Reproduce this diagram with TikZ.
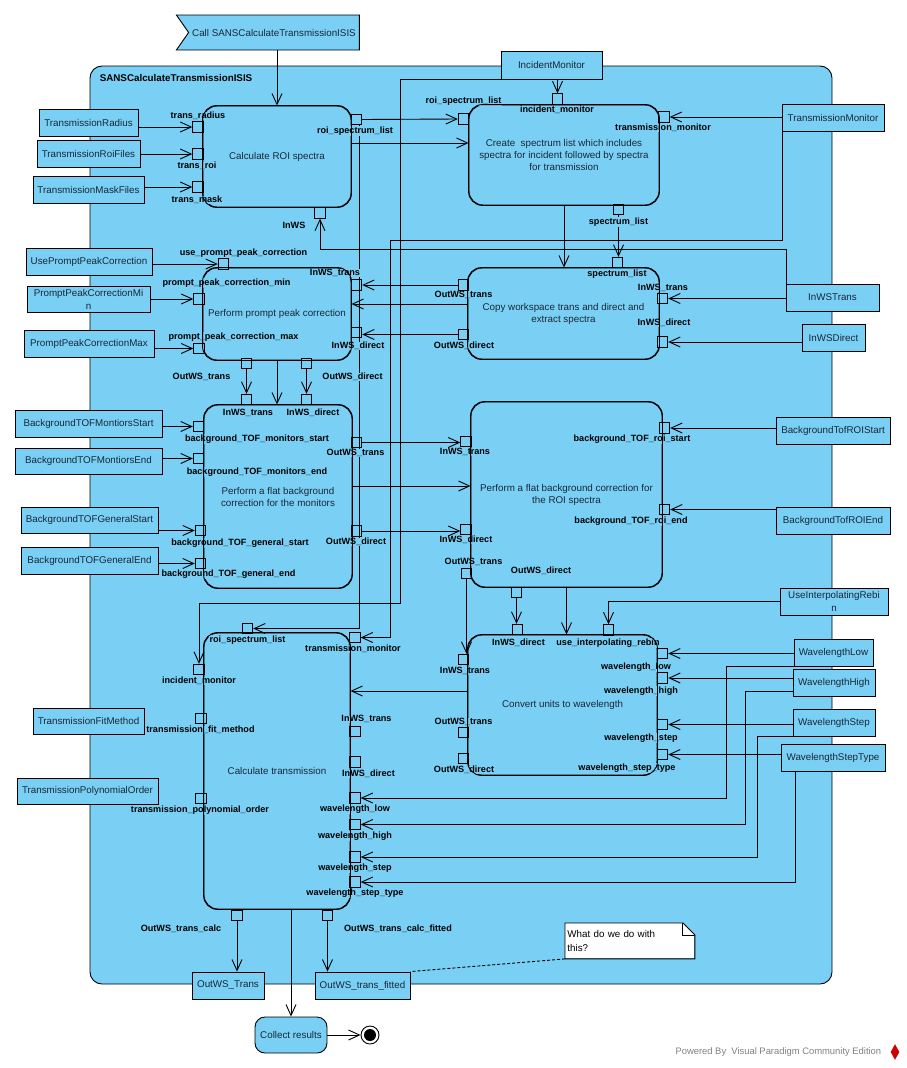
\documentclass[tikz,border=0pt]{standalone}
\usepackage{fontspec}
\setmainfont{Liberation Sans}
\usetikzlibrary{arrows.meta,shapes.symbols,shapes.geometric}

\definecolor{vpblue}{RGB}{122,207,245}
\definecolor{vptext}{RGB}{25,40,55}

\tikzset{
  act/.style={draw, fill=vpblue, rounded corners=14pt, text=vptext, align=center,
    font=\fontsize{9.8}{12}\selectfont, inner sep=0pt},
  obj/.style={draw, fill=vpblue, text=vptext, align=center,
    font=\fontsize{9.8}{13}\selectfont, inner sep=0pt},
  pinbox/.style={draw, fill=vpblue, minimum size=10.5pt, inner sep=0pt},
  lbl/.style={fill=vpblue, inner sep=0.6pt, font=\bfseries\fontsize{9.1}{10}\selectfont},
  flow/.style={-{Straight Barb[length=11pt,width=10pt]}},
}

\begin{document}
\begin{tikzpicture}[x=1pt, y=-1pt, line width=0.9pt]
  \useasboundingbox (0,0) rectangle (906,1068);

  % container
  \node[draw, fill=vpblue, rounded corners=12pt, minimum width=742pt, minimum height=918pt, inner sep=0pt] (frame) at (461,525) {};
  \node[anchor=west, font=\bfseries\fontsize{9.8}{11}\selectfont] (frametitle) at (96,78) {SANSCalculateTransmissionISIS};

  % start signal
  \node[signal, signal from=west, signal to=nowhere, signal pointer angle=110, draw, fill=vpblue, text=vptext,
    font=\fontsize{9.8}{12}\selectfont, minimum width=183pt, minimum height=35pt, inner sep=0pt] (start) at (274,32.5) {Call SANSCalculateTransmissionISIS};

  % actions
  \node[act, minimum width=148pt, minimum height=101pt] (roi) at (277,156.5) {Calculate ROI spectra};
  \node[act, minimum width=190pt, minimum height=100pt] (create) at (564,155) {Create~ spectrum list which includes\\spectra for incident followed by spectra\\for transmission};
  \node[act, minimum width=191pt, minimum height=91pt] (copy) at (563.5,313.5) {Copy workspace trans and direct and\\extract spectra};
  \node[act, minimum width=148pt, minimum height=92pt] (prompt) at (277,314) {Perform prompt peak correction};
  \node[act, minimum width=148pt, minimum height=183pt] (bgmon) at (278,496.5) {Perform a flat background\\correction for the monitors};
  \node[act, minimum width=191pt, minimum height=185pt] (bgroi) at (566.5,494.5) {Perform a flat background correction for\\the ROI spectra};
  \node[act, minimum width=189pt, minimum height=140pt] (conv) at (562.5,705) {Convert units to wavelength};
  \node[act, minimum width=146pt, minimum height=276pt] (calc) at (277,771) {Calculate transmission};
  \node[act, rounded corners=10pt, minimum width=72pt, minimum height=36pt] (collect) at (291,1035) {Collect results};
  \node[circle, draw, fill=white, minimum size=18pt, inner sep=0pt] (fin) at (370,1035) {};
  \fill (fin.center) circle (6pt);

  % object nodes
  \node[obj, minimum width=99pt, minimum height=27pt] (tradius) at (88.5,122.5) {TransmissionRadius};
  \node[obj, minimum width=103pt, minimum height=27pt] (troifiles) at (88.5,153.5) {TransmissionRoiFiles};
  \node[obj, minimum width=111pt, minimum height=27pt] (tmaskfiles) at (88.5,189.5) {TransmissionMaskFiles};
  \node[obj, minimum width=101pt, minimum height=28pt] (incmon) at (551.5,65) {IncidentMonitor};
  \node[obj, minimum width=102pt, minimum height=27pt] (trmon) at (833,117.5) {TransmissionMonitor};
  \node[obj, minimum width=126pt, minimum height=27pt] (usepeak) at (89,261.5) {UsePromptPeakCorrection};
  \node[obj, minimum width=123pt, minimum height=26pt] (pmin) at (88.5,299) {PromptPeakCorrectionMi\\n};
  \node[obj, minimum width=130pt, minimum height=27pt] (pmax) at (89,343.5) {PromptPeakCorrectionMax};
  \node[obj, minimum width=93pt, minimum height=27pt] (inwst) at (832.5,297.5) {InWSTrans};
  \node[obj, minimum width=63pt, minimum height=27pt] (inwsd) at (833.5,337.5) {InWSDirect};
  \node[obj, minimum width=147pt, minimum height=27pt] (mstart) at (88.5,423.5) {BackgroundTOFMontiorsStart};
  \node[obj, minimum width=147pt, minimum height=26pt] (mend) at (88.5,461) {BackgroundTOFMontiorsEnd};
  \node[obj, minimum width=137pt, minimum height=26pt] (gstart) at (89.5,520) {BackgroundTOFGeneralStart};
  \node[obj, minimum width=137pt, minimum height=27pt] (gend) at (89.5,560.5) {BackgroundTOFGeneralEnd};
  \node[obj, minimum width=114pt, minimum height=27pt] (rstart) at (833,430.5) {BackgroundTofROIStart};
  \node[obj, minimum width=114pt, minimum height=27pt] (rend) at (833,520.5) {BackgroundTofROIEnd};
  \node[obj, minimum width=108pt, minimum height=27pt] (rebin) at (834,601.5) {UseInterpolatingRebi\\n};
  \node[obj, minimum width=79pt, minimum height=27pt] (wlow) at (833.5,652.5) {WavelengthLow};
  \node[obj, minimum width=82pt, minimum height=27pt] (whigh) at (834,682.5) {WavelengthHigh};
  \node[obj, minimum width=82pt, minimum height=27pt] (wstep) at (834,722.5) {WavelengthStep};
  \node[obj, minimum width=104pt, minimum height=27pt] (wtype) at (833,757.5) {WavelengthStepType};
  \node[obj, minimum width=111pt, minimum height=26pt] (fitmethod) at (88.5,721) {TransmissionFitMethod};
  \node[obj, minimum width=141pt, minimum height=26pt] (polyorder) at (87.5,791) {TransmissionPolynomialOrder};
  \node[obj, minimum width=72pt, minimum height=27pt] (outtrans) at (228,985.5) {OutWS\_Trans};
  \node[obj, minimum width=95pt, minimum height=27pt] (outfit) at (362.5,985.5) {OutWS\_trans\_fitted};

  % note
  \node[anchor=north west, fill=white, align=left, inner sep=2pt, text width=125pt, minimum height=35pt,
    font=\fontsize{9.8}{14}\selectfont] (note) at (565,923) {What do we do with\\this?};
  \fill[vpblue] ([xshift=-12pt]note.north east) -- (note.north east) -- ([yshift=-12pt]note.north east) -- cycle;
  \draw (note.north west) -- ([xshift=-12pt]note.north east) -- ([yshift=-12pt]note.north east)
    -- (note.south east) -- (note.south west) -- cycle;
  \draw ([xshift=-12pt]note.north east) |- ([yshift=-12pt]note.north east);

  % pins
  \node[pinbox] (p-trad) at (198,127) {};
  \node[pinbox] (p-troi) at (198,154) {};
  \node[pinbox] (p-tmask) at (198,187) {};
  \node[pinbox] (p-roiout) at (356.5,119.5) {};
  \node[pinbox] (p-inws) at (320,213) {};
  \node[pinbox] (p-roiin) at (463.5,119) {};
  \node[pinbox] (p-incmon) at (557.5,99) {};
  \node[pinbox] (p-trmon) at (664,117) {};
  \node[pinbox] (p-speclist) at (618.5,209.5) {};
  \node[pinbox] (p-specin) at (617.5,262.5) {};
  \node[pinbox] (p-cout-t) at (463.5,285) {};
  \node[pinbox] (p-cout-d) at (463.5,334.5) {};
  \node[pinbox] (p-cin-t) at (662.5,298.5) {};
  \node[pinbox] (p-cin-d) at (662.5,342) {};
  \node[pinbox] (p-use) at (223.5,264) {};
  \node[pinbox] (p-pmin) at (199,299) {};
  \node[pinbox] (p-pmax) at (199,348.5) {};
  \node[pinbox] (p-pin-t) at (356.5,285) {};
  \node[pinbox] (p-pin-d) at (356.5,332.5) {};
  \node[pinbox] (p-pout-t) at (246.5,363.5) {};
  \node[pinbox] (p-pout-d) at (306.5,363.5) {};
  \node[pinbox] (p-bin-t) at (246.5,399.5) {};
  \node[pinbox] (p-bin-d) at (306.5,399.5) {};
  \node[pinbox] (p-mstart) at (198.5,426.5) {};
  \node[pinbox] (p-mend) at (198.5,458.5) {};
  \node[pinbox] (p-gstart) at (200.5,530.5) {};
  \node[pinbox] (p-gend) at (200.5,563.5) {};
  \node[pinbox] (p-bout-t) at (356.5,442.5) {};
  \node[pinbox] (p-bout-d) at (356.5,531) {};
  \node[pinbox] (p-rin-t) at (466,441.5) {};
  \node[pinbox] (p-rin-d) at (466,529.5) {};
  \node[pinbox] (p-rstart) at (664.5,428) {};
  \node[pinbox] (p-rend) at (664.5,509.5) {};
  \node[pinbox] (p-rout-t) at (466.5,573.5) {};
  \node[pinbox] (p-rout-d) at (516.5,592.5) {};
  \node[pinbox] (p-vin-t) at (463.5,659.5) {};
  \node[pinbox] (p-vin-d) at (517.5,629.5) {};
  \node[pinbox] (p-rebin) at (608.5,630) {};
  \node[pinbox] (p-wlow) at (662.5,653.5) {};
  \node[pinbox] (p-whigh) at (662.5,678) {};
  \node[pinbox] (p-wstep) at (662.5,724.5) {};
  \node[pinbox] (p-wtype) at (662.5,754.5) {};
  \node[pinbox] (p-vout-t) at (463.5,732.5) {};
  \node[pinbox] (p-vout-d) at (463.5,758.5) {};
  \node[pinbox] (p-roilist) at (247.5,628.5) {};
  \node[pinbox] (p-trmon2) at (355,637.5) {};
  \node[pinbox] (p-incmon2) at (199,669.5) {};
  \node[pinbox] (p-fit) at (201,718.5) {};
  \node[pinbox] (p-poly) at (201,798.5) {};
  \node[pinbox] (p-tin-t) at (355,731.5) {};
  \node[pinbox] (p-tin-d) at (355,762) {};
  \node[pinbox] (p-clow) at (355,798) {};
  \node[pinbox] (p-chigh) at (355,824.5) {};
  \node[pinbox] (p-cstep) at (355,857) {};
  \node[pinbox] (p-ctype) at (355,882) {};
  \node[pinbox] (p-tcalc) at (237,915.5) {};
  \node[pinbox] (p-tfit) at (327.5,915.5) {};

  % flows
  \draw[flow] (start.south -| roi.north) -- (roi.north);
  \draw[flow] (tradius.east |- p-trad) -- (p-trad.west);
  \draw[flow] (troifiles.east |- p-troi) -- (p-troi.west);
  \draw[flow] (tmaskfiles.east |- p-tmask) -- (p-tmask.west);
  \draw[flow] (p-roiout.east) -- (p-roiin.west);
  \coordinate (c-roi) at ([yshift=13.5pt]roi.east);
  \draw[flow] (c-roi) -- (c-roi -| create.west);
  \draw[flow] (incmon.south -| p-incmon) -- (p-incmon.north);
  \draw[flow] (trmon.west |- p-trmon) -- (p-trmon.east);
  \draw[flow] (p-speclist.south) -- (p-speclist.south |- p-specin.north);
  \draw[flow] (create.south) -- (create.south |- copy.north);
  \draw[flow] ([xshift=1pt]inwst.north west) -- ++(0,-34) -| (p-inws.south);
  \draw[flow] (inwst.west |- p-cin-t) -- (p-cin-t.east);
  \draw[flow] (inwsd.west |- p-cin-d) -- (p-cin-d.east);

  \draw[flow] (p-cout-t.west) -- (p-pin-t.east);
  \coordinate (c-copy) at ([yshift=9.5pt]copy.west);
  \draw[flow] (c-copy) -- (c-copy -| prompt.east);
  \draw[flow] (p-cout-d.west) -- (p-cout-d.west -| p-pin-d.east);
  \draw[flow] (usepeak.east |- p-use) -- (p-use.west);
  \draw[flow] (pmin.east |- p-pmin) -- (p-pmin.west);
  \draw[flow] (pmax.east |- p-pmax) -- (p-pmax.west);
  \draw[flow] (p-pout-t.south) -- (p-bin-t.north);
  \draw[flow] (p-pout-d.south) -- (p-bin-d.north);
  \draw[flow] (prompt.south) -- (prompt.south |- bgmon.north);

  \draw[flow] (mstart.east |- p-mstart) -- (p-mstart.west);
  \draw[flow] (mend.east |- p-mend) -- (p-mend.west);
  \draw[flow] (gstart.east |- p-gstart) -- (p-gstart.west);
  \draw[flow] (gend.east |- p-gend) -- (p-gend.west);
  \draw[flow] (p-bout-t.east) -- (p-bout-t.east -| p-rin-t.west);
  \coordinate (c-bg) at ([yshift=10.5pt]bgmon.east);
  \draw[flow] (c-bg) -- (c-bg -| bgroi.west);
  \draw[flow] (p-bout-d.east) -- (p-bout-d.east -| p-rin-d.west);
  \draw[flow] (rstart.west |- p-rstart) -- (p-rstart.east);
  \draw[flow] (rend.west |- p-rend) -- (p-rend.east);

  \draw[flow] (p-rout-t.south) -- (p-rout-t.south |- p-vin-t.north);
  \draw[flow] (p-rout-d.south) -- (p-rout-d.south |- p-vin-d.north);
  \draw[flow] (bgroi.south) -- (bgroi.south |- conv.north);
  \draw[flow] (rebin.west) -| (p-rebin.north);
  \draw[flow] (wlow.west |- p-wlow) -- (p-wlow.east);
  \draw[flow] (whigh.west |- p-whigh) -- (p-whigh.east);
  \draw[flow] (wstep.west |- p-wstep) -- (p-wstep.east);
  \draw[flow] (wtype.west |- p-wtype) -- (p-wtype.east);
  \coordinate (c-conv) at ([yshift=14pt]conv.west);
  \draw[flow] (c-conv) -- (c-conv -| calc.east);

  % inputs of calculate transmission
  \draw[flow] ([xshift=3pt]p-roiout.south) |- (p-roilist.east);
  \draw[flow] ([xshift=1pt]trmon.south west) -- ++(0,109) -| ([xshift=30pt]p-trmon2.east) -- (p-trmon2.east);
  \draw[flow] (incmon.south west) -- ++(-100,0) -- ++(0,524) -| (p-incmon2.north);
  \draw[flow] (wlow.south west) -- ++(-67,0) |- (p-clow.east);
  \draw[flow] ([yshift=5pt]whigh.south west) -- ++(-47,0) |- (p-chigh.east);
  \draw[flow] (wstep.south west) -- ++(-35,0) |- (p-cstep.east);
  \draw[flow] ([xshift=15pt]wtype.south west) |- (p-ctype.east);

  \draw[flow] (p-tcalc.south) -- (p-tcalc.south |- outtrans.north);
  \draw[flow] (p-tfit.south) -- (p-tfit.south |- outfit.north);
  \draw[flow] (calc.south -| collect.north) -- (collect.north);
  \draw[flow] (collect.east) -- (fin.west);
  \draw[dash pattern=on 3pt off 2pt] (note.south west) -- (outfit.north east);

  % pin labels
  \node[lbl] (l-trad) at (198,116) {trans\_radius};
  \node[lbl] (l-troi) at (197,166) {trans\_roi};
  \node[lbl] (l-tmask) at (197,200) {trans\_mask};
  \node[lbl] (l-roiout) at (355,131) {roi\_spectrum\_list};
  \node[lbl] (l-inws) at (294,225) {InWS};
  \node[lbl] (l-roiin) at (463.5,101) {roi\_spectrum\_list};
  \node[lbl] (l-incmon) at (557,110) {incident\_monitor};
  \node[lbl] (l-trmon) at (663,128) {transmission\_monitor};
  \node[lbl] (l-speclist) at (618.5,222) {spectrum\_list};
  \node[lbl] (l-specin) at (617,274) {spectrum\_list};
  \node[lbl] (l-cout-t) at (463.5,295) {OutWS\_trans};
  \node[lbl] (l-cout-d) at (464,346) {OutWS\_direct};
  \node[lbl] (l-cin-t) at (663,288) {InWS\_trans};
  \node[lbl] (l-cin-d) at (664,323) {InWS\_direct};
  \node[lbl] (l-use) at (243.5,253) {use\_prompt\_peak\_correction};
  \node[lbl] (l-pmin) at (226.5,283) {prompt\_peak\_correction\_min};
  \node[lbl] (l-pmax) at (233.5,337) {prompt\_peak\_correction\_max};
  \node[lbl] (l-pin-t) at (335,273) {InWS\_trans};
  \node[lbl] (l-pin-d) at (358,346) {InWS\_direct};
  \node[lbl] (l-pout-t) at (201.5,377) {OutWS\_trans};
  \node[lbl] (l-pout-d) at (352.5,377) {OutWS\_direct};
  \node[lbl] (l-bin-t) at (248,413) {InWS\_trans};
  \node[lbl] (l-bin-d) at (313,413) {InWS\_direct};
  \node[lbl] (l-mstart) at (257,439) {background\_TOF\_monitors\_start};
  \node[lbl] (l-mend) at (257,472) {background\_TOF\_monitors\_end};
  \node[lbl] (l-gstart) at (240,543) {background\_TOF\_general\_start};
  \node[lbl] (l-gend) at (228.5,574) {background\_TOF\_general\_end};
  \node[lbl] (l-bout-t) at (355.5,453) {OutWS\_trans};
  \node[lbl] (l-bout-d) at (356,542) {OutWS\_direct};
  \node[lbl] (l-rin-t) at (465,452) {InWS\_trans};
  \node[lbl] (l-rin-d) at (466,540) {InWS\_direct};
  \node[lbl] (l-rstart) at (632,439) {background\_TOF\_roi\_start};
  \node[lbl] (l-rend) at (631,521) {background\_TOF\_roi\_end};
  \node[lbl] (l-rout-t) at (473.5,562) {OutWS\_trans};
  \node[lbl] (l-rout-d) at (541,571) {OutWS\_direct};
  \node[lbl] (l-vin-t) at (465,671) {InWS\_trans};
  \node[lbl] (l-vin-d) at (518.5,643) {InWS\_direct};
  \node[lbl] (l-rebin) at (608,643) {use\_interpolating\_rebin};
  \node[lbl] (l-wlow) at (636,667) {wavelength\_low};
  \node[lbl] (l-whigh) at (641,691) {wavelength\_high};
  \node[lbl] (l-wstep) at (641,738) {wavelength\_step};
  \node[lbl] (l-wtype) at (627,768) {wavelength\_step\_type};
  \node[lbl] (l-vout-t) at (463.5,722) {OutWS\_trans};
  \node[lbl] (l-vout-d) at (464,770) {OutWS\_direct};
  \node[lbl] (l-roilist) at (247.5,640) {roi\_spectrum\_list};
  \node[lbl] (l-trmon2) at (353,649) {transmission\_monitor};
  \node[lbl] (l-incmon2) at (199,681) {incident\_monitor};
  \node[lbl] (l-fit) at (200.5,730) {transmission\_fit\_method};
  \node[lbl] (l-poly) at (200,810) {transmission\_polynomial\_order};
  \node[lbl] (l-tin-t) at (366.5,719) {InWS\_trans};
  \node[lbl] (l-tin-d) at (368.5,774) {InWS\_direct};
  \node[lbl] (l-clow) at (355,809) {wavelength\_low};
  \node[lbl] (l-chigh) at (355,836) {wavelength\_high};
  \node[lbl] (l-cstep) at (355,868) {wavelength\_step};
  \node[lbl] (l-ctype) at (355,893) {wavelength\_step\_type};
  \node[lbl] (l-tcalc) at (181,929) {OutWS\_trans\_calc};
  \node[lbl] (l-tfit) at (398,929) {OutWS\_trans\_calc\_fitted};

  % action outlines drawn over the labels
  \foreach \a in {roi,create,copy,prompt,bgmon,bgroi,conv,calc}
    \draw[rounded corners=14pt] (\a.north west) rectangle (\a.south east);

  % footer
  \node[anchor=east, text=gray, font=\fontsize{9.4}{11}\selectfont] (vp) at (885,1052) {Powered By\ \ Visual Paradigm Community Edition};
  \node[diamond, fill=red!80!black, minimum width=9pt, minimum height=16pt, inner sep=0pt] (vplogo) at (895,1052) {};
\end{tikzpicture}
\end{document}
